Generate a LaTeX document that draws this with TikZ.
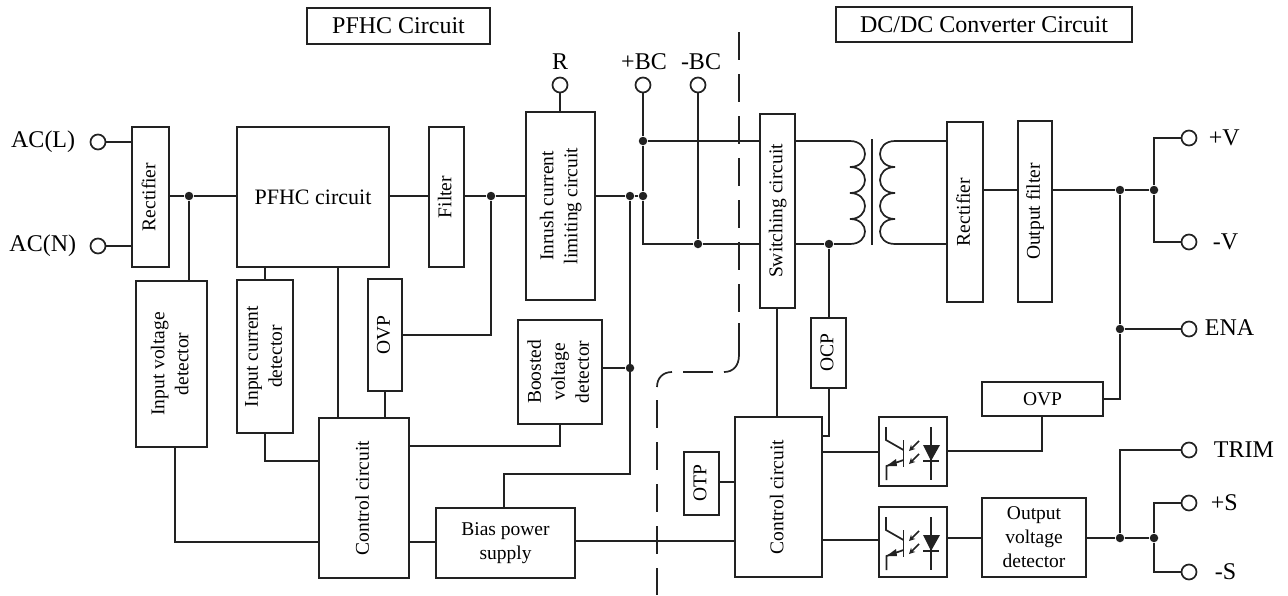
\documentclass[tikz,border=0pt]{standalone}
\usepackage{fontspec}
\setmainfont{Liberation Serif}
\usepackage{xcolor}
\usepackage{graphicx}
\usetikzlibrary{calc,arrows.meta}

\definecolor{inkdark}{HTML}{222222}
\newcommand{\vlabel}[1]{\rotatebox{90}{\begin{tabular}{@{}c@{}}#1\end{tabular}}}

\tikzset{
    block/.style={draw, fill=white, rectangle, inner sep=0pt, text=black, align=center, font=\fontsize{19.5}{24}\selectfont},
    title/.style={block, font=\fontsize{24}{28}\selectfont},
    terminal/.style={draw, fill=white, circle, minimum size=15pt, inner sep=0pt},
    termtext/.style={text=black, inner sep=0pt, font=\fontsize{24}{28}\selectfont},
    jdot/.style={fill=inkdark, circle, minimum size=8.5pt, inner sep=0pt},
    isodash/.style={line width=1.7pt, dash pattern=on 28pt off 14pt},
}

\begin{document}
\begin{tikzpicture}[x=1pt, y=-1pt, line width=1.7pt, color=inkdark]
    \useasboundingbox (0,0) rectangle (1288,595);

    % titles
    \node[title, minimum width=183pt, minimum height=36pt] (pfhctitle) at (398.5,26) {PFHC Circuit};
    \node[title, minimum width=296pt, minimum height=35pt] (dctitle) at (984,24.5) {DC/DC Converter Circuit};

    % left half
    \node[block, minimum width=37pt, minimum height=140pt] (rect1) at (150.5,197) {\vlabel{Rectifier}};
    \node[block, minimum width=152pt, minimum height=140pt, font=\fontsize{22}{26}\selectfont] (pfhc) at (313,197) {PFHC circuit};
    \node[block, minimum width=35pt, minimum height=140pt] (filter) at (446.5,197) {\vlabel{Filter}};
    \node[block, minimum width=69pt, minimum height=188pt] (inrush) at (560.5,206) {\vlabel{Inrush current\\limiting circuit}};
    \node[block, minimum width=71pt, minimum height=166pt] (inputv) at (171.5,364) {\vlabel{Input voltage\\detector}};
    \node[block, minimum width=56pt, minimum height=153pt] (inputc) at (265,356.5) {\vlabel{Input current\\detector}};
    \node[block, minimum width=34pt, minimum height=112pt] (ovp1) at (385,335) {\vlabel{OVP}};
    \node[block, minimum width=84pt, minimum height=104pt] (boost) at (560,372) {\vlabel{Boosted\\voltage\\detector}};
    \node[block, minimum width=90pt, minimum height=160pt] (ctrl1) at (364,498) {\vlabel{Control circuit}};
    \node[block, minimum width=139pt, minimum height=70pt] (bias) at (505.5,543) {Bias power\\supply};

    % right half
    \node[block, minimum width=35pt, minimum height=194pt] (switch) at (777.5,211) {\vlabel{Switching circuit}};
    \node[block, minimum width=36pt, minimum height=180pt] (rect2) at (965,212) {\vlabel{Rectifier}};
    \node[block, minimum width=34pt, minimum height=181pt] (outf) at (1035,211.5) {\vlabel{Output filter}};
    \node[block, minimum width=35pt, minimum height=70pt] (ocp) at (828.5,353) {\vlabel{OCP}};
    \node[block, minimum width=35pt, minimum height=63pt] (otp) at (701.5,483.5) {\vlabel{OTP}};
    \node[block, minimum width=87pt, minimum height=160pt] (ctrl2) at (778.5,497) {\vlabel{Control circuit}};
    \node[block, minimum width=121pt, minimum height=34pt] (ovp2) at (1042.5,399) {OVP};
    \node[block, minimum width=68pt, minimum height=69pt] (opto1) at (913,451.5) {};
    \node[block, minimum width=68pt, minimum height=70pt] (opto2) at (913,542) {};
    \node[block, minimum width=104pt, minimum height=79pt] (outv) at (1034,537.5) {Output\\voltage\\detector};

    % terminals
    \node[terminal] (acl) at (98,142) {};
    \node[terminal] (acn) at (98,246) {};
    \node[terminal] (tr) at (560,85) {};
    \node[terminal] (tbcp) at (643,85) {};
    \node[terminal] (tbcm) at (698,85) {};
    \node[terminal] (tvp) at (1189,138) {};
    \node[terminal] (tvm) at (1189,242) {};
    \node[terminal] (tena) at (1189,329) {};
    \node[terminal] (ttrim) at (1189,450) {};
    \node[terminal] (tsp) at (1189,503) {};
    \node[terminal] (tsm) at (1189,572) {};

    \node[termtext, anchor=east] (lacl) at (76,142) {AC(L)};
    \node[termtext, anchor=east] (lacn) at (77,246) {AC(N)};
    \node[termtext] (lr) at (560,62) {R};
    \node[termtext] (lbcp) at (644,62) {+BC};
    \node[termtext] (lbcm) at (701,62) {-BC};
    \node[termtext, anchor=west] (lvp) at (1208,138) {+V};
    \node[termtext, anchor=west] (lvm) at (1212,242) {-V};
    \node[termtext, anchor=west] (lena) at (1204,328) {ENA};
    \node[termtext, anchor=west] (ltrim) at (1213,450) {TRIM};
    \node[termtext, anchor=west] (lsp) at (1210,503) {+S};
    \node[termtext, anchor=west] (lsm) at (1214,572) {-S};

    % junctions
    \node[jdot] (j1) at (189,196) {};
    \node[jdot] (j2) at (491,196) {};
    \node[jdot] (j3) at (630,196) {};
    \node[jdot] (j4) at (643,196) {};
    \node[jdot] (j5) at (643,141) {};
    \node[jdot] (j6) at (698,244) {};
    \node[jdot] (j7) at (630,368) {};
    \node[jdot] (j8) at (829,244) {};
    \node[jdot] (j9) at (1120,190) {};
    \node[jdot] (j10) at (1154,190) {};
    \node[jdot] (j11) at (1120,329) {};
    \node[jdot] (j12) at (1120,538) {};
    \node[jdot] (j13) at (1154,538) {};

    % wires, left
    \draw (acl) -- (rect1.west |- acl);
    \draw (acn) -- (rect1.west |- acn);
    \draw (rect1.east |- j1) -- (j1) -- (pfhc.west |- j1);
    \draw (j1) -- (j1 |- inputv.north);
    \draw (pfhc.east |- j1) -- (filter.west |- j1);
    \draw (filter.east |- j2) -- (j2) -- (inrush.west |- j2);
    \draw (j2) |- (ovp1.east);
    \draw (inputc.north) -- (inputc.north |- pfhc.south);
    \draw (ctrl1.north -| 338,0) -- (pfhc.south -| 338,0);
    \draw (ovp1.south) -- (ovp1.south |- ctrl1.north);
    \draw (inputc.south) |- (ctrl1.west |- 0,461);
    \draw (inputv.south -| 175,0) |- (ctrl1.west |- 0,542);
    \draw (boost.south) |- (ctrl1.east |- 0,446);
    \draw (ctrl1.east |- 0,542) -- (bias.west |- 0,542);
    \draw (bias.east |- 0,541) -- (ctrl2.west |- 0,541);
    \draw (otp.east |- 0,482) -- (ctrl2.west |- 0,482);
    \draw (bias.north -| 504,0) |- (630,474) -- (j3);
    \draw (boost.east |- j7) -- (j7);
    \draw (tr) -- (inrush.north -| tr);
    \draw (inrush.east |- j3) -- (j3) -- (j4);

    % wires, bus
    \draw (tbcp) -- (j5) -- (j4) |- (j6) -- (switch.west |- j6);
    \draw (j5) -- (switch.west |- j5);
    \draw (tbcm) -- (j6);

    % wires, right
    \draw (switch.south -| 777,0) -- (ctrl2.north -| 777,0);
    \draw (switch.east |- j5) -- (850,141);
    \draw (switch.east |- j8) -- (j8) -- (850,244);
    \draw (j8) -- (j8 |- ocp.north);
    \draw (ocp.south -| j8) |- (ctrl2.east |- 0,436);
    \draw (ctrl2.east |- 0,452) -- (opto1.west |- 0,452);
    \draw (ctrl2.east |- 0,540) -- (opto2.west |- 0,540);
    \draw (opto1.east |- 0,451) -| (ovp2.south -| 1042,0);
    \draw (opto2.east |- 0,538) -- (outv.west |- 0,538);
    \draw (ovp2.east) -| (j11);
    \draw (j11) -- (j9);
    \draw (j11) -- (tena);
    \draw (rect2.east |- j9) -- (outf.west |- j9);
    \draw (outf.east |- j9) -- (j9) -- (j10);
    \draw (tvp) -| (j10);
    \draw (tvm) -| (j10);
    \draw (outv.east |- j12) -- (j12) -- (j13);
    \draw (ttrim) -| (j12);
    \draw (tsp) -| (j13);
    \draw (tsm) -| (j13);

    % transformer
    \foreach \ya/\yb in {141/167, 167/193, 193/219, 219/244} {
        \draw (850,\ya) .. controls (870,\ya) and (870,\yb) .. (850,\yb);
        \draw (895,\ya) .. controls (875,\ya) and (875,\yb) .. (895,\yb);
    }
    \draw (872,139) -- (872,245);
    \draw (895,141) -- (rect2.west |- 895,141);
    \draw (895,244) -- (rect2.west |- 895,244);

    % isolation line
    \draw[isodash] (739,32) -- (739,312);
    \draw (739,323) -- (739,355) .. controls (739,366) and (733,372) .. (724,372);
    \draw (713,372) -- (683,372);
    \draw (672,372) .. controls (663,372) and (657,378) .. (657,387);
    \draw[isodash] (657,400) -- (657,595);

    % optocouplers
    \foreach \ox/\oy in {879/417, 879/507} {
        \begin{scope}[shift={(\ox,\oy)}]
            \draw (7,10) -- (7,23) -- (24.5,33);
            \draw (24.5,23) -- (24.5,50);
            \draw (24.5,43) -- (7.5,49) -- (7.5,63);
            \fill[inkdark] (7.5,49) -- (17,42) -- (18,49) -- cycle;
            \draw[-{Stealth[length=6pt,width=6pt]}] (40,24) -- (30,34);
            \draw[-{Stealth[length=6pt,width=6pt]}] (40,37) -- (30,47);
            \draw (52,10) -- (52,63);
            \fill[inkdark] (44,28) -- (61,28) -- (52,44) -- cycle;
            \draw (44,44) -- (60,44);
        \end{scope}
    }
\end{tikzpicture}
\end{document}
